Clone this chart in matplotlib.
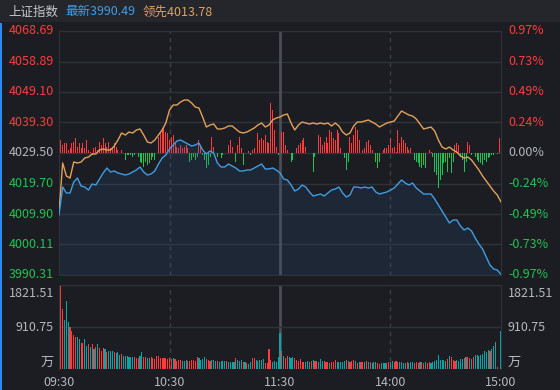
import numpy as np
import matplotlib
matplotlib.use('Agg')
import matplotlib.pyplot as plt
from matplotlib.patches import Rectangle

plt.rcParams['font.family'] = ['Noto Sans CJK SC', 'DejaVu Sans']

# ---- data ----
preClose = 4029.50
priceTicks = [4068.69, 4058.89, 4049.10, 4039.30, 4029.50, 4019.70, 4009.90, 4000.11, 3990.31]
pctTicks = ['0.97%', '0.73%', '0.49%', '0.24%', '0.00%', '-0.24%', '-0.49%', '-0.73%', '-0.97%']
volTicks = [1821.51, 910.75]
timeTicks = [0, 60, 120, 180, 240]
timeLabels = ['09:30', '10:30', '11:30', '14:00', '15:00']

# price samples every 2 minutes (09:30 .. 15:00, 121 points)
latest = [4009.58, 4018.57, 4016.65, 4016.65, 4020.18, 4021.46, 4018.89, 4018.57, 4017.61, 4019.54,
          4019.22, 4021.14, 4023.08, 4024.68, 4023.40, 4023.72, 4023.08, 4022.76, 4022.43, 4022.76,
          4023.40, 4024.04, 4025.00, 4023.40, 4022.43, 4022.76, 4023.72, 4025.96, 4027.89, 4028.86,
          4030.78, 4032.07, 4033.35, 4033.67, 4033.03, 4032.39, 4031.75, 4032.07, 4032.71, 4030.46,
          4029.18, 4030.14, 4029.50, 4026.29, 4025.00, 4025.00, 4025.96, 4025.32, 4024.68, 4023.72,
          4023.72, 4024.04, 4024.04, 4024.68, 4025.32, 4025.96, 4024.36, 4024.36, 4024.68, 4024.04,
          4023.08, 4021.14, 4020.82, 4019.22, 4017.29, 4017.93, 4019.22, 4018.57, 4016.97, 4015.68,
          4016.00, 4016.33, 4015.68, 4016.65, 4017.61, 4017.93, 4018.57, 4016.65, 4015.36, 4016.00,
          4018.57, 4018.57, 4018.25, 4018.57, 4018.25, 4018.57, 4016.97, 4016.33, 4016.65, 4016.97,
          4017.61, 4018.25, 4019.54, 4020.82, 4019.86, 4019.22, 4019.86, 4018.25, 4017.29, 4016.33,
          4016.33, 4016.33, 4014.72, 4012.79, 4010.87, 4008.94, 4007.01, 4007.98, 4007.98, 4006.05,
          4004.76, 4005.41, 4004.44, 4002.19, 4000.27, 3998.66, 3996.09, 3993.52, 3992.24, 3991.92,
          3990.49]
leading = [4010.55, 4026.29, 4022.11, 4021.46, 4026.61, 4026.29, 4026.61, 4027.89, 4028.21, 4029.18,
           4029.18, 4030.46, 4030.78, 4030.46, 4030.46, 4031.75, 4033.67, 4035.92, 4035.28, 4036.24,
           4035.92, 4036.88, 4037.21, 4035.28, 4033.03, 4032.71, 4033.67, 4035.28, 4036.88, 4039.13,
           4043.31, 4044.91, 4044.91, 4045.88, 4046.52, 4046.52, 4045.56, 4044.27, 4043.95, 4041.06,
           4037.85, 4038.49, 4038.81, 4037.21, 4037.21, 4037.53, 4038.17, 4038.17, 4037.21, 4036.24,
           4035.92, 4036.24, 4036.88, 4037.53, 4038.49, 4039.13, 4037.85, 4038.49, 4040.10, 4040.74,
           4041.06, 4041.70, 4042.02, 4039.13, 4036.88, 4038.49, 4039.45, 4039.13, 4038.81, 4039.13,
           4038.81, 4039.13, 4038.81, 4039.13, 4038.17, 4039.13, 4038.17, 4036.24, 4035.28, 4035.92,
           4038.17, 4039.45, 4039.45, 4039.77, 4040.10, 4039.45, 4038.81, 4037.85, 4038.49, 4039.13,
           4039.45, 4039.77, 4041.38, 4042.99, 4042.34, 4041.70, 4041.38, 4040.42, 4038.81, 4037.21,
           4037.53, 4037.85, 4036.56, 4033.67, 4031.42, 4030.78, 4031.42, 4030.46, 4029.82, 4028.53,
           4027.89, 4028.21, 4027.25, 4025.64, 4024.04, 4022.11, 4020.50, 4018.89, 4017.29, 4016.00,
           4013.78]

# buy/sell strength per minute (+ red / - green)
strength = [15, 13, 8, 10, 10, 3, 5, 10, 11, 15,
            6, 10, 5, 10, 5, 13, 3, 1, -2, 5,
            6, 3, 11, 8, 15, 10, 6, 11, 5, 6,
            10, 6, 3, 0, 3, 0, -7, -2, -2, -2,
            -4, -2, 0, -4, -9, -10, -14, -9, -12, -10,
            -7, -4, -7, 0, 16, 21, 25, 26, 21, 20,
            13, 16, 18, 10, 6, 5, 8, 5, 6, 8,
            5, -9, -7, -4, -7, -4, 13, 8, -2, -7,
            -15, -12, -4, 16, 6, 0, -4, 0, -5, -2,
            0, 0, 8, 13, 6, 0, -9, 8, 16, 5,
            -12, 0, 0, 2, -2, 3, 5, 0, 20, 13,
            15, 13, 18, 11, 10, 50, 43, 23, 6, -2,
            0, 21, 21, 8, 3, 0, -9, -7, 0, 5,
            8, 10, 13, 15, 6, 0, 0, 0, -19, -4,
            0, 18, 16, 8, 11, 16, 10, 23, 21, 15,
            13, 23, 20, 5, 0, -5, -17, -9, 16, 10,
            18, 26, 23, 13, 0, 3, 5, 11, 13, 8,
            3, 0, -9, -15, -9, 0, 3, 5, 5, 8,
            15, 5, 6, 1, 23, 10, 16, 13, 10, 6,
            3, 5, 0, -7, -9, -10, -14, -15, -12, -15,
            0, 3, 1, -4, -19, -22, -35, -27, -22, -10,
            -9, -19, -5, -20, -9, 8, 10, 8, -4, -7,
            -19, -9, 11, 8, -2, 0, -4, -7, -9, -10,
            -12, -7, -9, -5, -4, -2, -2, 0, -1, 15, 0]
strengthScale = 0.32   # strength units -> index points

# volume per minute (万)
volume = [629, 1821.51, 1301, 1063, 1475, 1019, 904, 831, 738, 694,
          694, 643, 564, 564, 643, 499, 542, 470, 542, 434,
          477, 542, 455, 398, 455, 427, 376, 398, 398, 398,
          369, 354, 369, 311, 325, 282, 282, 282, 260, 260,
          260, 260, 246, 246, 282, 369, 260, 260, 239, 239,
          260, 239, 224, 282, 282, 239, 239, 239, 239, 224,
          239,
          217, 239, 217, 174, 195, 195, 174, 174, 195, 174,
          174, 195, 195, 174, 260, 239, 195, 217, 260, 217,
          195, 174, 195, 195, 174, 174, 152, 174, 174, 174,
          174, 152, 152, 152, 152, 239, 195, 174, 195, 152,
          152, 130, 108, 152, 239, 239, 195, 174, 195, 195,
          217, 130, 130, 434, 195, 152, 174, 152, 260,
          781, 390, 282, 239, 282,
          260, 239, 260, 239, 195, 174, 217, 152, 152, 152,
          174, 152, 174, 195, 174, 174, 152, 217, 174, 174,
          152, 152, 130, 152, 152, 195, 152, 152, 152, 152,
          174, 195, 174, 152, 174, 195, 174, 130, 152, 152,
          152, 152, 174, 152, 152, 130, 152, 152, 130, 108,
          130, 130, 130, 130, 152, 152, 174, 152, 174, 152,
          152, 152,
          130, 130, 152, 130, 152, 152, 130, 152, 130, 152,
          152, 130, 152, 130, 152, 130, 152, 174, 195, 304,
          195, 195, 195, 174, 217, 282, 260, 195, 174, 195,
          174, 217, 217, 239, 260, 260, 239, 217, 260, 304,
          304, 282, 304, 325, 390, 369, 412, 390, 434, 499,
          586, 43, 0, 824]
# bar colour per minute: w = call auction, r = up, t = down
volColor = ('wrrtttrrrr' 'ttrrttrtrt' 'rtrrrtrttt' 'rtttrttttt' 'trrrttrrtt' 'rrrrrrrrrr' 'r'
            'rtrrrrtttr' 'rrrrrttttr' 'rrtttrtttt' 'rttttrtttr' 'trttrrtttt' 'trrrrtttt'
            'trtrr'
            'tttrrrrrrt' 'ttrtrrtttr' 'rrtrrrtttt' 'trtrrrtrtr' 'rtrtrtttrr' 'tttrrttrrr' 'tt'
            'ttrtttrrtr' 'trtrrttttt' 'ttttrtrrrt' 'ttttrtrtrt' 'tttttttrtt' 'trrt')

bg = '#1b1d22'
gridc = '#2f3238'
txt = '#b3b7be'
red = '#ff3b3b'
green = '#1ec451'
blue = '#3f9de6'
orange = '#e3a15a'
teal = '#07a4a8'

fig = plt.figure(figsize=(5.6, 3.9), dpi=100, facecolor=bg)
fig.patches.append(Rectangle((0, 1 - 22 / 390), 1, 22 / 390, transform=fig.transFigure,
                             facecolor='#24262b', edgecolor='none', zorder=0))
fig.patches.append(Rectangle((0, 0), 1.5 / 560, 1 - 23 / 390, transform=fig.transFigure,
                             facecolor='#2a8cf0', edgecolor='none', zorder=0))

ax = fig.add_axes([59 / 560, 1 - 275 / 390, 442 / 560, 244 / 390], facecolor=bg)
axv = fig.add_axes([59 / 560, 1 - 369 / 390, 442 / 560, 84 / 390], facecolor=bg)

t2 = np.arange(0, 241, 2)
t1 = np.arange(0, 241)
xl = -5 / 442        # label anchors in axes fraction
xr = 1 + 7 / 442

# main panel
for p in priceTicks:
    ax.axhline(p, color=gridc, lw=1, zorder=0)
for a in (ax, axv):
    a.axvline(60, color='#3d4046', lw=1, ls=(0, (3, 3)), zorder=0)
    a.axvline(180, color='#3d4046', lw=1, ls=(0, (3, 3)), zorder=0)
    a.axvline(120, color='#4b4e54', lw=2, zorder=0)
    a.set_xlim(0, 240)
    a.set_yticks([])
    for sp in a.spines.values():
        sp.set_color(gridc)

s = np.array(strength) * strengthScale
ax.bar(t1, s, bottom=preClose, width=0.55, color=[red if v > 0 else green for v in s], zorder=1)
ax.fill_between(t2, latest, priceTicks[-1], color='#2d5a8c', alpha=0.18, lw=0, zorder=1)
ax.plot(t2, leading, color=orange, lw=1, zorder=3)
ax.plot(t2, latest, color=blue, lw=1, zorder=3)
ax.set_ylim(priceTicks[-1], priceTicks[0])
ax.set_xticks([])

ytr = ax.get_yaxis_transform()
for p, pc in zip(priceTicks, pctTicks):
    c = red if p > preClose else (green if p < preClose else txt)
    ax.text(xl, p, '%.2f' % p, color=c, fontsize=9, ha='right', va='center', transform=ytr)
    ax.text(xr, p, pc, color=c, fontsize=9, ha='left', va='center', transform=ytr)

# volume panel
axv.axhline(volTicks[0], color=gridc, lw=1, zorder=0)
axv.axhline(volTicks[1], color=gridc, lw=1, zorder=0)
cmap = {'w': '#f0f0f0', 'r': red, 't': teal}
axv.bar(t1, volume, width=0.6, color=[cmap[c] for c in volColor], zorder=1)
axv.set_ylim(0, volTicks[0])
axv.set_xticks([])
axv.spines['bottom'].set_visible(False)

vtr = axv.get_yaxis_transform()
for x, ha in ((xl, 'right'), (xr, 'left')):
    axv.text(x, volTicks[0] * 0.9, '%.2f' % volTicks[0], color=txt, fontsize=9, ha=ha, va='center', transform=vtr)
    axv.text(x, volTicks[1], '%.2f' % volTicks[1], color=txt, fontsize=9, ha=ha, va='center', transform=vtr)
    axv.text(x, 150, '万', color=txt, fontsize=9.5, ha=ha, va='center', transform=vtr)

xtr = axv.get_xaxis_transform()
for t, lab in zip(timeTicks, timeLabels):
    axv.text(t, -13 / 84, lab, color=txt, fontsize=9, ha='center', va='center', transform=xtr)

# header
fig.text(8 / 560, 1 - 12 / 390, '上证指数', color='#c3c6cc', fontsize=9, va='center')
fig.text(65 / 560, 1 - 12 / 390, '最新%.2f' % latest[-1], color=blue, fontsize=9, va='center')
fig.text(143 / 560, 1 - 12 / 390, '领先%.2f' % leading[-1], color=orange, fontsize=9, va='center')

fig.savefig('out.png', dpi=100, facecolor=bg)
